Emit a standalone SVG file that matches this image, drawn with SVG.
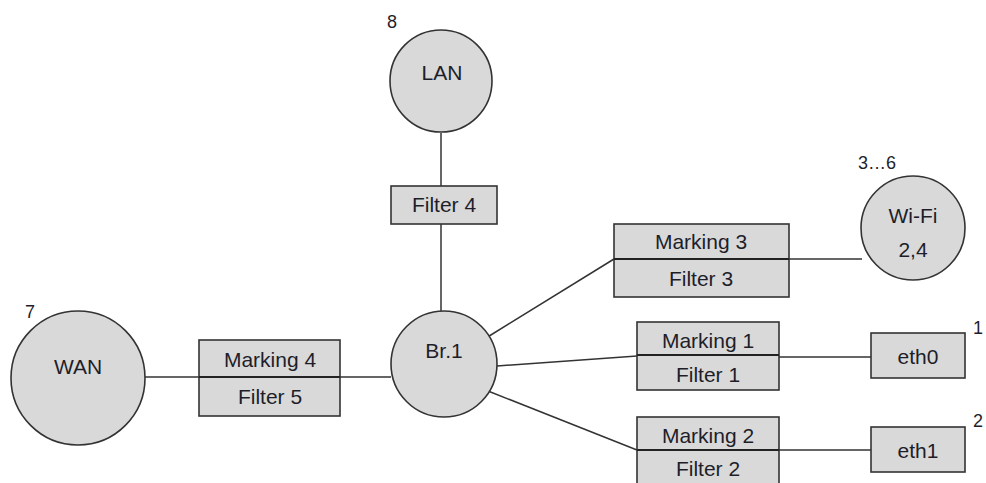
<svg xmlns="http://www.w3.org/2000/svg" width="986" height="483" viewBox="0 0 986 483">
<style>
.n{fill:#d9d9d9;stroke:#333;stroke-width:1.6}
.d{stroke:#222;stroke-width:2}
.c{stroke:#333;stroke-width:1.5;fill:none}
text{font-family:"Liberation Sans",Arial,sans-serif;font-size:21px;fill:#1e1e2a;text-anchor:middle}
.num{font-size:18px;text-anchor:start}
</style>
<rect width="986" height="483" fill="#fff"/>
<g id="connectors">
<line class="c" x1="441" y1="133" x2="441" y2="186"/>
<line class="c" x1="441" y1="224" x2="441" y2="311"/>
<line class="c" x1="145" y1="377" x2="199" y2="377"/>
<line class="c" x1="340" y1="377" x2="391" y2="377"/>
<line class="c" x1="486" y1="338" x2="614" y2="259"/>
<line class="c" x1="789" y1="259" x2="862" y2="259"/>
<line class="c" x1="497" y1="366" x2="637" y2="356"/>
<line class="c" x1="688" y1="357" x2="871" y2="357"/>
<line class="c" x1="488" y1="391" x2="637" y2="450"/>
<line class="c" x1="779" y1="450" x2="871" y2="450"/>
</g>
<g id="lan">
<circle class="n" cx="441" cy="81" r="51"/>
<text x="442" y="80">LAN</text>
<text class="num" x="387" y="28">8</text>
</g>
<g id="filter4">
<rect class="n" x="391" y="186" width="106" height="38"/>
<text x="444" y="212">Filter 4</text>
</g>
<g id="wan">
<circle class="n" cx="78" cy="378" r="67"/>
<text x="78" y="374">WAN</text>
<text class="num" x="25" y="318">7</text>
</g>
<g id="marking4">
<rect class="n" x="199" y="340" width="141" height="76"/>
<line class="d" x1="199" y1="377" x2="340" y2="377"/>
<text x="270" y="367">Marking 4</text>
<text x="270" y="404">Filter 5</text>
</g>
<g id="br1">
<circle class="n" cx="444" cy="364" r="53"/>
<text x="444" y="358">Br.1</text>
</g>
<g id="marking3">
<rect class="n" x="614" y="224" width="175" height="73"/>
<line class="d" x1="614" y1="259" x2="789" y2="259"/>
<text x="701" y="249">Marking 3</text>
<text x="701" y="286">Filter 3</text>
</g>
<g id="wifi">
<circle class="n" cx="913" cy="228" r="52"/>
<text x="913" y="223">Wi-Fi</text>
<text x="913" y="257">2,4</text>
<text class="num" x="858" y="169">3…6</text>
</g>
<g id="marking1">
<rect class="n" x="637" y="322" width="142" height="68"/>
<line class="d" x1="637" y1="355" x2="779" y2="355"/>
<text x="708" y="348">Marking 1</text>
<text x="708" y="382">Filter 1</text>
</g>
<g id="eth0">
<rect class="n" x="871" y="333" width="94" height="45"/>
<text x="918" y="364">eth0</text>
<text class="num" x="973" y="334">1</text>
</g>
<g id="marking2">
<rect class="n" x="637" y="417" width="142" height="70"/>
<line class="d" x1="637" y1="450" x2="779" y2="450"/>
<text x="708" y="443">Marking 2</text>
<text x="708" y="476">Filter 2</text>
</g>
<g id="eth1">
<rect class="n" x="871" y="427" width="94" height="45"/>
<text x="918" y="458">eth1</text>
<text class="num" x="973" y="427">2</text>
</g>
</svg>
